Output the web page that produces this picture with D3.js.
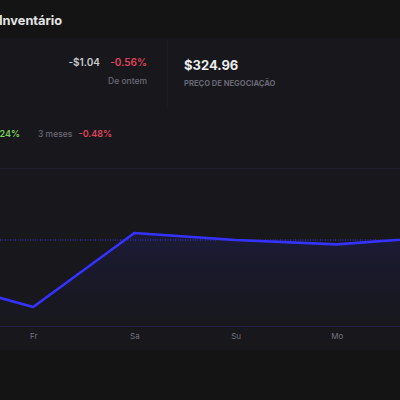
<!DOCTYPE html>
<html>
<head>
<meta charset="utf-8">
<script src="https://cdn.jsdelivr.net/npm/d3@7"></script>
<style>
  html, body { margin: 0; padding: 0; background: #141414; }
  svg { display: block; }
  text { font-family: Inter, "Noto Sans", sans-serif; }
</style>
</head>
<body>
<svg id="chart" width="400" height="400"></svg>
<script>
// ---- data ----
const days = ["Th", "Fr", "Sa", "Su", "Mo", "Tu"];
const dayLabels = ["", "Fr", "Sa", "Su", "Mo", ""];
const prices = [324.03, 322.65, 326.35, 326.0, 325.78, 326.15];
const previousClose = 326.0;
const title = "Inventário";
const changeAbs = "-$1.04";
const changePct = "-0.56%";
const changeLabel = "De ontem";
const lastPrice = "$324.96";
const lastPriceLabel = "PREÇO DE NEGOCIAÇÃO";
const periodGain = "24%";
const periodLabel = "3 meses";
const periodChange = "-0.48%";
const yDomain = [321.7, 329.6];

const svg = d3.select("#chart");

// background panels
svg.append("rect").attr("x", 0).attr("y", 0).attr("width", 400).attr("height", 38).attr("fill", "#141414");
svg.append("rect").attr("x", 0).attr("y", 38).attr("width", 400).attr("height", 312).attr("fill", "#17171c");
svg.append("rect").attr("x", 0).attr("y", 350).attr("width", 400).attr("height", 50).attr("fill", "#141414");
svg.append("line").attr("x1", 167.5).attr("x2", 167.5).attr("y1", 40).attr("y2", 108)
  .attr("stroke", "#1b1b21").attr("stroke-width", 1);

// header texts
svg.append("text").attr("x", -1).attr("y", 25).text(title)
  .attr("font-size", 12.8).attr("font-weight", 700).attr("fill", "#e4e4e4");

svg.append("text").attr("x", 100).attr("y", 66).attr("text-anchor", "end").text(changeAbs)
  .attr("font-size", 10).attr("font-weight", 600).attr("fill", "#c9c9cc");
svg.append("text").attr("x", 147).attr("y", 66).attr("text-anchor", "end").text(changePct)
  .attr("font-size", 10).attr("font-weight", 600).attr("fill", "#e0445c");
svg.append("text").attr("x", 147).attr("y", 84).attr("text-anchor", "end").text(changeLabel)
  .attr("font-size", 8.5).attr("font-weight", 500).attr("fill", "#6c6c76");

svg.append("text").attr("x", 184).attr("y", 70).text(lastPrice)
  .attr("font-size", 13).attr("font-weight", 700).attr("fill", "#ececec");
svg.append("text").attr("x", 184).attr("y", 86).text(lastPriceLabel)
  .attr("font-size", 7.6).attr("font-weight", 700).attr("fill", "#686873");

svg.append("text").attr("x", 20).attr("y", 137).attr("text-anchor", "end").text(periodGain)
  .attr("font-size", 9).attr("font-weight", 600).attr("fill", "#7ccf58");
svg.append("text").attr("x", 38).attr("y", 137).text(periodLabel)
  .attr("font-size", 8.5).attr("font-weight", 500).attr("fill", "#6c6c76");
svg.append("text").attr("x", 112).attr("y", 137).attr("text-anchor", "end").text(periodChange)
  .attr("font-size", 9).attr("font-weight", 600).attr("fill", "#e0445c");

// ---- chart ----
const x = d3.scalePoint().domain(days).range([-68, 438]);
const y = d3.scaleLinear().domain(yDomain).range([326, 168]);

// top gridline
svg.append("line").attr("x1", 0).attr("x2", 400).attr("y1", y(yDomain[1]) + 0.5).attr("y2", y(yDomain[1]) + 0.5)
  .attr("stroke", "#1e1d28").attr("stroke-width", 1);

const defs = svg.append("defs");
const grad = defs.append("linearGradient").attr("id", "fillGrad")
  .attr("gradientUnits", "userSpaceOnUse")
  .attr("x1", 0).attr("x2", 0).attr("y1", y(d3.max(prices))).attr("y2", y(yDomain[0]));
grad.append("stop").attr("offset", "0%").attr("stop-color", "#3b36ff").attr("stop-opacity", 0.12);
grad.append("stop").attr("offset", "45%").attr("stop-color", "#3b36ff").attr("stop-opacity", 0.06);
grad.append("stop").attr("offset", "100%").attr("stop-color", "#3b36ff").attr("stop-opacity", 0.0);

const pts = days.map((d, i) => ({ d, v: prices[i] }));
const area = d3.area().x(p => x(p.d)).y0(y(yDomain[0])).y1(p => y(p.v));
svg.append("path").datum(pts).attr("d", area).attr("fill", "url(#fillGrad)");

// baseline
svg.append("line").attr("x1", 0).attr("x2", 400).attr("y1", y(yDomain[0]) + 0.5).attr("y2", y(yDomain[0]) + 0.5)
  .attr("stroke", "#221f42").attr("stroke-width", 1);

// previous close dotted line
svg.append("line").attr("x1", 0).attr("x2", 400).attr("y1", y(previousClose)).attr("y2", y(previousClose))
  .attr("stroke", "#3a36f0").attr("stroke-width", 1).attr("stroke-dasharray", "1,1.5");

const line = d3.line().x(p => x(p.d)).y(p => y(p.v));
svg.append("path").datum(pts).attr("d", line).attr("fill", "none")
  .attr("stroke", "#3532ff").attr("stroke-width", 2.6).attr("stroke-linejoin", "round");

// x axis
const xAxis = d3.axisBottom(x).tickSize(0).tickFormat((d, i) => dayLabels[i]);
const gx = svg.append("g").attr("transform", "translate(0,330)").call(xAxis);
gx.select(".domain").remove();
gx.selectAll("text").attr("font-size", 8).attr("fill", "#74747e").attr("dy", "0.7em")
  .attr("font-family", "Inter, 'Noto Sans', sans-serif");
</script>
</body>
</html>
